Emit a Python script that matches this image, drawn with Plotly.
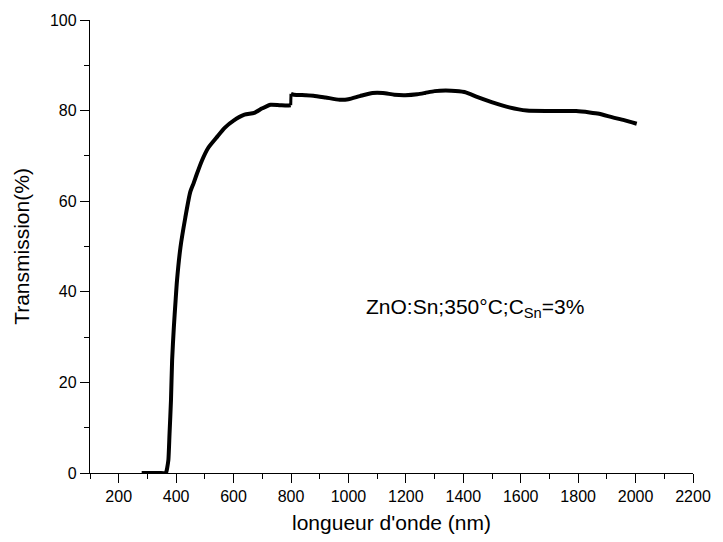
import plotly.graph_objects as go

wavelength_nm = [280, 300, 340, 364, 366, 369, 373, 377, 382, 386, 392, 398, 403, 415,
                 432, 449, 461, 472, 490, 512, 540, 569, 600, 638, 672, 700, 729, 760,
                 787, 799, 800, 810, 850, 878, 920, 969, 1000, 1040, 1084, 1120, 1160,
                 1198, 1240, 1267, 1300, 1358, 1404, 1450, 1507, 1560, 1621, 1700, 1793,
                 1840, 1873, 1920, 1960, 2004]
transmission = [0, 0, 0, 0, 0.3, 1.2, 2.9, 8.7, 16, 24.9, 32.2, 38, 42.5, 49.8,
                56.4, 62, 64, 66, 69, 71.8, 74, 76.2, 77.8, 79.1, 79.5, 80.5, 81.3, 81.2,
                81.1, 81.2, 83.7, 83.5, 83.4, 83.3, 82.9, 82.4, 82.5, 83.2, 83.9, 83.9, 83.5,
                83.4, 83.6, 83.9, 84.3, 84.4, 84.1, 83.0, 81.7, 80.7, 80.0, 79.9, 79.9,
                79.6, 79.3, 78.5, 77.9, 77.1]

annotation_text = "ZnO:Sn;350°C;C<sub>Sn</sub>=3%"
x_title = "longueur d'onde (nm)"
y_title = "Transmission(%)"

FONT = "Liberation Sans, Arial, sans-serif"

# split at the detector change (jump at 800 nm) so the smoothing does not overshoot
split = wavelength_nm.index(800)

fig = go.Figure()
for xs, ys in ((wavelength_nm[:split], transmission[:split]),
               (wavelength_nm[split:], transmission[split:])):
    fig.add_trace(go.Scatter(
        x=xs, y=ys, mode="lines",
        line=dict(color="black", width=4, shape="spline", smoothing=0.6),
        showlegend=False,
    ))
# connect the jump
fig.add_trace(go.Scatter(
    x=wavelength_nm[split - 1:split + 1], y=transmission[split - 1:split + 1],
    mode="lines", line=dict(color="black", width=3), showlegend=False,
))

axis_common = dict(
    showline=True, linecolor="black", linewidth=1.3,
    ticks="outside", ticklen=9, tickwidth=1.3, tickcolor="black",
    showgrid=False, zeroline=False, mirror=False,
    tickfont=dict(family=FONT, size=16, color="black"),
)

fig.update_xaxes(
    range=[100, 2200], tick0=200, dtick=200,
    minor=dict(dtick=100, ticks="outside", ticklen=5, tickwidth=1.3,
               tickcolor="black", showgrid=False),
    title=dict(text=x_title, font=dict(family=FONT, size=21, color="black"), standoff=10),
    **axis_common,
)
fig.update_yaxes(
    range=[0, 100], tick0=0, dtick=20,
    minor=dict(dtick=10, ticks="outside", ticklen=5, tickwidth=1.3,
               tickcolor="black", showgrid=False),
    title=dict(text=y_title, font=dict(family=FONT, size=21, color="black"), standoff=14),
    **axis_common,
)

fig.add_annotation(
    x=1054, y=36.5, xref="x", yref="y", text=annotation_text,
    showarrow=False, xanchor="left", yanchor="middle",
    font=dict(family=FONT, size=21, color="black"),
)

fig.update_layout(
    width=723, height=542,
    margin=dict(l=90, r=21, t=19, b=69),
    paper_bgcolor="white", plot_bgcolor="white",
    font=dict(family=FONT, color="black"),
)

fig.write_html("out.html")
